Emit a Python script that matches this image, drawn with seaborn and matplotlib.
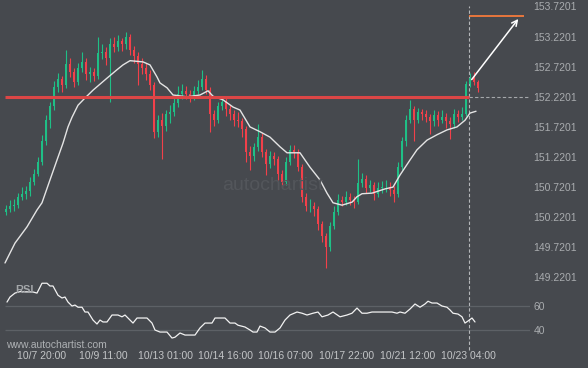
import matplotlib
matplotlib.use("Agg")
import matplotlib.pyplot as plt
from matplotlib.patches import Rectangle
import numpy as np
import seaborn as sns

sns.set_theme(style="dark")
plt.rcParams['font.family'] = ['Liberation Sans', 'DejaVu Sans']

# ------------------------------
# Data (hourly-ish candles)
# ------------------------------
first_open = 150.30
closes = [
    150.35, 150.40, 150.43, 150.55, 150.61, 150.65, 150.81, 150.94, 151.14, 151.48,
    151.84, 152.07, 152.39, 152.51, 152.41, 152.77, 152.64, 152.47, 152.70, 152.80,
    152.60, 152.64, 152.57, 152.94, 152.97, 152.87, 153.10, 153.05, 153.14, 153.10,
    153.22, 153.00, 152.89, 152.77, 152.70, 152.60, 152.41, 151.64, 151.84, 151.73,
    151.94, 151.97, 152.11, 152.27, 152.31, 152.27, 152.22, 152.31, 152.39, 152.51,
    152.34, 151.94, 151.84, 152.06, 152.14, 152.01, 151.94, 151.84, 151.81, 151.68,
    151.31, 151.23, 151.39, 151.56, 151.31, 151.11, 151.23, 151.18, 150.94, 150.81,
    151.14, 151.34, 151.31, 151.06, 150.56, 150.40, 150.41, 150.35, 150.11, 149.90,
    149.73, 150.07, 150.31, 150.51, 150.48, 150.55, 150.51, 150.48, 150.78, 150.85,
    150.71, 150.75, 150.61, 150.71, 150.72, 150.73, 150.68, 150.61, 151.06, 151.48,
    151.84, 152.01, 151.84, 151.97, 151.94, 151.89, 151.81, 151.91, 151.84, 151.89,
    151.81, 151.77, 151.94, 151.89, 151.94, 152.44, 152.54, 152.47, 152.37,
]
highs = [
    150.42, 150.50, 150.52, 150.62, 150.72, 150.74, 150.88, 151.02, 151.22, 151.58,
    151.92, 152.14, 152.48, 152.62, 152.56, 153.00, 152.86, 152.70, 152.78, 152.97,
    152.86, 152.72, 152.70, 153.22, 153.10, 153.05, 153.20, 153.22, 153.24, 153.20,
    153.30, 153.26, 153.06, 152.96, 152.86, 152.78, 152.66, 152.46, 151.92, 151.95,
    152.00, 152.08, 152.20, 152.40, 152.44, 152.40, 152.34, 152.40, 152.50, 152.66,
    152.58, 152.38, 152.00, 152.14, 152.24, 152.20, 152.08, 152.00, 151.96, 151.86,
    151.74, 151.40, 151.46, 151.76, 151.62, 151.36, 151.32, 151.30, 151.24, 151.00,
    151.22, 151.42, 151.42, 151.36, 151.10, 150.62, 150.52, 150.48, 150.40, 150.16,
    149.96, 150.14, 150.40, 150.60, 150.58, 150.66, 150.62, 150.58, 151.18, 150.96,
    150.92, 150.84, 150.80, 150.80, 150.82, 150.84, 150.80, 150.74, 151.14, 151.56,
    151.92, 152.17, 152.06, 152.04, 152.02, 152.00, 151.94, 152.00, 151.98, 152.00,
    151.95, 151.88, 152.02, 152.00, 152.05, 152.48, 152.62, 152.64, 152.50,
]
lows = [
    150.26, 150.30, 150.33, 150.38, 150.50, 150.52, 150.58, 150.76, 150.90, 151.08,
    151.42, 151.70, 152.00, 152.30, 152.30, 152.36, 152.55, 152.38, 152.42, 152.64,
    152.50, 152.46, 152.48, 152.52, 152.84, 152.75, 152.14, 152.96, 152.98, 152.98,
    153.02, 152.92, 152.78, 152.42, 152.60, 152.50, 152.34, 151.53, 151.55, 151.18,
    151.66, 151.78, 151.90, 152.05, 152.18, 152.18, 152.14, 152.16, 152.26, 152.34,
    152.26, 151.64, 151.74, 151.78, 152.00, 151.90, 151.84, 151.74, 151.72, 151.56,
    151.14, 151.00, 151.16, 151.32, 151.22, 150.92, 151.04, 151.08, 150.84, 150.70,
    150.76, 151.08, 151.20, 150.98, 150.48, 150.32, 150.30, 150.24, 150.00, 149.80,
    149.38, 149.66, 150.02, 150.26, 150.40, 150.42, 150.42, 150.38, 150.44, 150.72,
    150.62, 150.64, 150.50, 150.56, 150.62, 150.64, 150.58, 150.48, 150.56, 151.00,
    151.40, 151.78, 151.48, 151.78, 151.84, 151.80, 151.60, 151.74, 151.74, 151.78,
    151.70, 151.52, 151.70, 151.80, 151.84, 151.90, 152.38, 152.42, 152.30,
]

# moving average (bar position, price)
ma_idx = [-0.25, 2.25, 5.25, 7.75, 9, 11, 12.75, 14.25, 15.5, 16.5, 18, 19.75, 21.75,
          23.5, 25.25, 27.75, 29.25, 31, 34.25, 36, 37.75, 38.5, 40.25, 41.75, 45.25,
          48.5, 50.5, 51.75, 54.25, 56.75, 58.5, 61, 63.5, 66, 68.5, 70.25, 73.5, 76,
          78.5, 80.25, 81.75, 84, 86.5, 87.75, 89, 91.5, 94.75, 96.75, 98.5, 101,
          102.75, 105.25, 107.75, 110.25, 112.75, 114.75, 116, 117.5]
ma_val = [149.46, 149.79, 150.06, 150.34, 150.46, 150.84, 151.17, 151.45, 151.72,
          151.88, 152.08, 152.20, 152.33, 152.43, 152.53, 152.67, 152.75, 152.82,
          152.80, 152.75, 152.55, 152.45, 152.37, 152.25, 152.22, 152.25, 152.32,
          152.23, 152.17, 152.05, 152.00, 151.72, 151.64, 151.55, 151.39, 151.29,
          151.29, 151.05, 150.84, 150.62, 150.46, 150.42, 150.47, 150.56, 150.61,
          150.62, 150.69, 150.72, 150.92, 151.17, 151.34, 151.50, 151.59, 151.67,
          151.72, 151.83, 151.95, 151.98]

# RSI
rsi_idx = [0.25, 1, 2.25, 3.5, 6.75, 7.75, 9, 10.25, 11, 11.75, 13, 14, 14.75, 15.5,
           16.5, 17.25, 18, 19, 19.75, 20.5, 21.75, 22.75, 23.5, 24.25, 25.25, 26.5,
           28, 29, 29.75, 31, 31.75, 32.75, 35.25, 36.5, 37.25, 38.5, 40.25, 41.5,
           42.25, 43.5, 44.75, 47.25, 48.5, 49.75, 51.5, 52.25, 54.75, 56, 57.25, 58,
           59.75, 61, 61.75, 62.75, 63.5, 64.75, 66, 67.25, 68.5, 69.75, 71, 72.75,
           74, 75.25, 76.75, 78, 79, 80.5, 81.75, 83.5, 85.25, 86.5, 87.75, 89, 90.25,
           91.5, 96.5, 97.75, 98.5, 99.75, 101, 102.25, 103.5, 104.75, 105.5, 106.5,
           107.75, 109, 110.25, 111, 111.75, 113, 114, 114.75, 115.5, 116.5, 117.25]
rsi_val = [63.3, 67.5, 70.8, 72.0, 71.7, 70.8, 79.0, 79.0, 76.7, 76.7, 69.0, 66.7,
           67.5, 63.3, 60.0, 60.8, 59.0, 59.0, 55.0, 55.0, 48.3, 45.0, 48.3, 46.7,
           46.7, 52.5, 52.5, 51.0, 52.5, 48.3, 45.8, 50.0, 50.0, 45.8, 40.0, 38.3,
           38.3, 33.3, 34.0, 37.5, 35.8, 35.8, 41.7, 45.8, 45.8, 50.0, 50.0, 45.8,
           45.8, 44.0, 42.5, 40.0, 38.3, 38.3, 43.3, 41.7, 38.3, 38.3, 41.7, 48.3,
           52.5, 55.0, 54.0, 52.5, 54.0, 55.0, 51.0, 52.5, 55.0, 51.0, 52.5, 54.0,
           58.3, 54.0, 54.0, 55.0, 55.0, 54.0, 55.0, 54.0, 57.5, 61.7, 59.0, 61.7,
           64.0, 62.5, 62.5, 60.0, 59.0, 56.7, 54.0, 53.3, 51.0, 45.8, 47.5, 50.0,
           46.7]

price_ticks = [149.2201, 149.7201, 150.2201, 150.7201, 151.2201, 151.7201,
               152.2201, 152.7201, 153.2201, 153.7201]
rsi_ticks = [40, 60]
time_idx = [9, 24.25, 39.75, 55, 69.75, 85.25, 100.5, 115.5]
time_labels = ["10/7 20:00", "10/9 11:00", "10/13 01:00", "10/14 16:00",
               "10/16 07:00", "10/17 22:00", "10/21 12:00", "10/23 04:00"]

resistance = 152.2201
target = 153.56
breakout_idx = 115.75
arrow_from = (116, 152.47)
arrow_to = (128.5, 153.55)

# ------------------------------
# Styling
# ------------------------------
BG = '#46494e'
GREEN = '#1fbf86'
RED = '#f2404a'
LABEL = '#a9acaf'
XLAB = '#c3c5c7'

fig = plt.figure(figsize=(5.88, 3.68), dpi=100)
fig.patch.set_facecolor(BG)
W, H = 588, 368
ax = fig.add_axes([0, (H - 280) / H, 530 / W, 280 / H])
ax2 = fig.add_axes([0, (H - 345) / H, 530 / W, 65 / H], sharex=ax)
for a in (ax, ax2):
    a.set_facecolor(BG)
    for s in a.spines.values():
        s.set_visible(False)
    a.grid(False)

# faint watermark
fig.text(222 / W, 1 - 186 / H, "autochartist", color='#53565b', fontsize=14,
         va='center', ha='left', zorder=0)
logo_bars = [(187, 185, 5), (193, 177, 12), (200, 173, 8), (207, 168, 12),
             (213, 170, 6), (218, 163, 10), (224, 167, 8), (230, 165, 6), (236, 158, 9)]
for bx, by, bh in logo_bars:
    fig.add_artist(Rectangle((bx / W, 1 - (by + bh) / H), 3 / W, bh / H,
                             transform=fig.transFigure, color='#53565b', zorder=0))

# ------------------------------
# Candles
# ------------------------------
c = np.array(closes)
o = np.array([first_open] + closes[:-1])
idx = np.arange(len(c))
cols = np.where(c >= o, GREEN, RED)
ax.vlines(idx, lows, highs, colors=cols, linewidth=0.8, zorder=3)
ax.bar(idx, np.maximum(np.abs(c - o), 0.01), bottom=np.minimum(o, c), width=0.6,
       color=cols, linewidth=0, zorder=3)

sns.lineplot(x=ma_idx, y=ma_val, ax=ax, color='#e4e4e4', linewidth=1.0, zorder=4)

# resistance / target / projection
ax.hlines(resistance, -0.25, breakout_idx, colors='#dc4646', linewidth=2.2, zorder=5)
ax.hlines(resistance, breakout_idx, 131, colors='#a5a8ab', linewidth=0.8,
          linestyles=(0, (3, 2)), zorder=2)
ax.hlines(target, breakout_idx, 129.5, colors='#f47a3c', linewidth=1.3, zorder=5)
ax.axvline(breakout_idx, ymin=0, ymax=1 - 6 / 280, color='#b5b7ba', linewidth=0.8,
           linestyle=(0, (3, 2)), zorder=2)
ax.annotate('', xy=arrow_to, xytext=arrow_from,
            arrowprops=dict(arrowstyle='->', color='white', lw=1.1, mutation_scale=10),
            zorder=6)

ax.set_xlim(-1.5, 131)
ax.set_ylim(149.177, 153.828)
ax.yaxis.tick_right()
ax.set_yticks(price_ticks)
ax.set_yticklabels([f"{t:.4f}" for t in price_ticks])
ax.tick_params(axis='y', length=0, pad=2.5, labelsize=7.5, labelcolor=LABEL)
ax.tick_params(axis='x', length=0, labelbottom=False)
ax.set_xlabel("")
ax.set_ylabel("")

# ------------------------------
# RSI panel
# ------------------------------
ax2.hlines(rsi_ticks, -0.25, 131, colors='#5d6166', linewidth=0.9, zorder=1)
sns.lineplot(x=rsi_idx, y=rsi_val, ax=ax2, color='#f2f2f2', linewidth=0.9, zorder=4)
ax2.axvline(breakout_idx, ymin=-5 / 65, ymax=1, color='#b5b7ba', linewidth=0.8,
            linestyle=(0, (3, 2)), zorder=2, clip_on=False)
ax2.text(2.25, 73.5, "RSI", color='#a3a6a9', fontsize=8, fontweight='bold',
         va='center', ha='left', zorder=5)
ax2.set_ylim(27.5, 81.7)
ax2.yaxis.tick_right()
ax2.set_yticks(rsi_ticks)
ax2.set_yticklabels([str(t) for t in rsi_ticks])
ax2.tick_params(axis='y', length=0, pad=2.5, labelsize=7.5, labelcolor=LABEL)
ax2.set_xticks(time_idx)
ax2.set_xticklabels(time_labels)
ax2.tick_params(axis='x', length=0, pad=4, labelsize=7.5, labelcolor=XLAB)
ax2.set_xlabel("")
ax2.set_ylabel("")

fig.text(6 / W, 1 - 345 / H, "www.autochartist.com", color='#aeb1b4', fontsize=7.5,
         va='center', ha='left')

fig.savefig("out.png", dpi=100, facecolor=BG)
